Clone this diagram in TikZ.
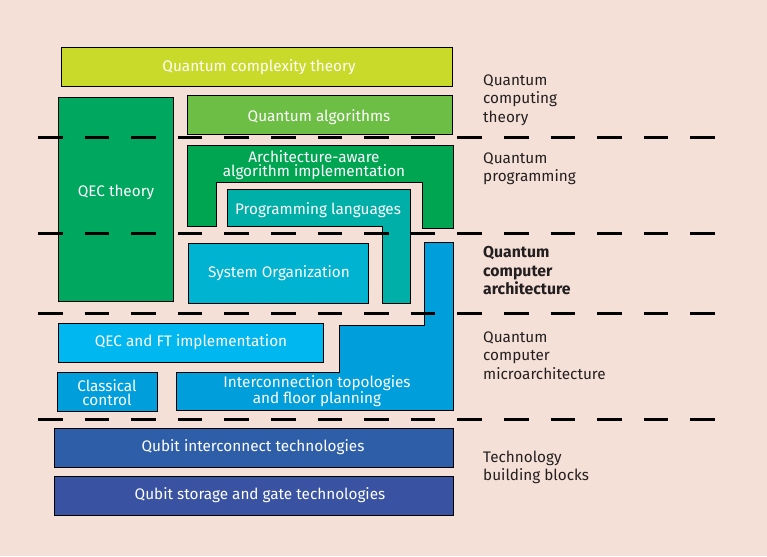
\documentclass[tikz,border=0pt]{standalone}
\usepackage{fontspec}
\setmainfont{Fira Sans}
\usetikzlibrary{positioning}
\definecolor{bgpeach}{HTML}{F5E0D7}
\definecolor{cplx}{HTML}{C9DA2A}
\definecolor{algo}{HTML}{6DBE45}
\definecolor{qect}{HTML}{00A75E}
\definecolor{arch}{HTML}{00A551}
\definecolor{prog}{HTML}{00AFA8}
\definecolor{sysorg}{HTML}{00B3D1}
\definecolor{qecft}{HTML}{00B7EF}
\definecolor{clas}{HTML}{009FDC}
\definecolor{inter}{HTML}{009EDB}
\definecolor{qint}{HTML}{2F5EA9}
\definecolor{qsto}{HTML}{3953A2}
\definecolor{ink}{HTML}{231F20}

\begin{document}
\begin{tikzpicture}[x=1pt, y=-1pt,
	block/.style={draw=black, line width=1pt},
	blabel/.style={text=white, align=center, inner sep=0pt,
		font=\fontsize{15.3}{14}\selectfont},
	layer/.style={text=ink, align=left, anchor=north west, inner sep=0pt,
		font=\fontsize{15.3}{18.5}\selectfont},
	sep/.style={line width=3pt, dash pattern=on 24.6pt off 22pt}]
	\fill [bgpeach] (0,0) rectangle (767,556);
	\useasboundingbox (0,0) rectangle (767,556);

	% theory and programming blocks
	\draw [block, fill=cplx] (61,48) rectangle (452,87);
	\draw [block, fill=algo] (187,96) rectangle (452,135);
	\draw [block, fill=qect] (58,98) rectangle (173,301);
	\draw [block, fill=arch] (187,146) -- (453,146) -- (453,228) -- (422,228)
		-- (422,182) -- (216,182) -- (216,226) -- (187,226) -- cycle;
	\draw [block, fill=prog] (227,189) -- (410,189) -- (410,303) -- (382,303)
		-- (382,226) -- (227,226) -- cycle;
	\draw [block, fill=sysorg] (188,243) rectangle (368,303);

	% microarchitecture blocks
	\draw [block, fill=inter] (424,242) -- (453,242) -- (453,410) -- (176,410)
		-- (176,372) -- (339,372) -- (339,325) -- (424,325) -- cycle;
	\draw [block, fill=qecft] (58,323) rectangle (323,362);
	\draw [block, fill=clas] (57,372) rectangle (157,411);

	% technology blocks
	\draw [block, fill=qint] (54,428) rectangle (453,467);
	\draw [block, fill=qsto] (54,476) rectangle (453,515);

	% labels
	\node [blabel] (cplxlbl) at (259,67.5) {Quantum complexity theory};
	\node [blabel] (algolbl) at (319,117.5) {Quantum algorithms};
	\node [blabel] (qectlbl) at (116,192.5) {QEC theory};
	\node [blabel] (archlbl) at (314,165) {Architecture-aware\\algorithm implementation};
	\node [blabel] (proglbl) at (318,210.5) {Programming languages};
	\node [blabel] (sysorglbl) at (279,273.5) {System Organization};
	\node [blabel] (qecftlbl) at (191,342.5) {QEC and FT implementation};
	\node [blabel] (claslbl) at (107,392.5) {Classical\\control};
	\node [blabel] (interlbl) at (317,391.5) {Interconnection topologies\\and floor planning};
	\node [blabel] (qintlbl) at (253,447.5) {Qubit interconnect technologies};
	\node [blabel] (qstolbl) at (260,495.5) {Qubit storage and gate technologies};

	% layer separators
	\foreach \y in {138,233,313,419}
		\draw [sep] (38,\y) -- (717,\y);

	% layer names
	\node [layer] (theory) at (483,74.5) {Quantum\\computing\\theory};
	\node [layer] (programming) at (483,152.5) {Quantum\\programming};
	\node [layer, font=\bfseries\fontsize{15.8}{18.5}\selectfont] (architecture) at (483,246.5)
		{Quantum\\computer\\architecture};
	\node [layer] (micro) at (483,331.5) {Quantum\\computer\\microarchitecture};
	\node [layer] (technology) at (483,450.5) {Technology\\building blocks};
\end{tikzpicture}
\end{document}
